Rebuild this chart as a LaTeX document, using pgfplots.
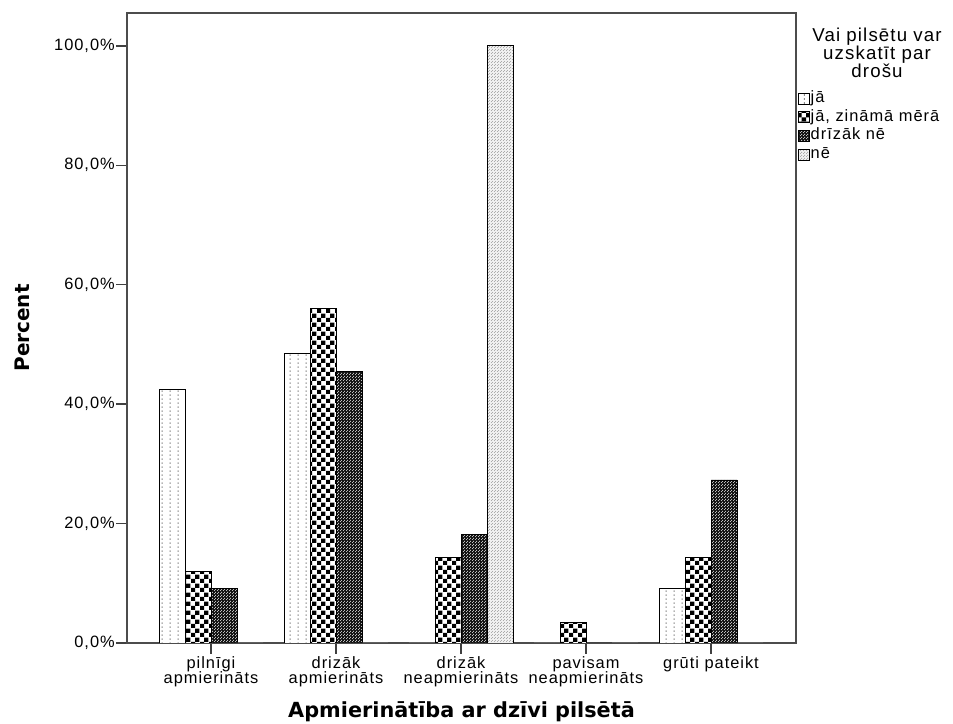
\documentclass[border=0pt]{standalone}
\usepackage{pgfplots}
\pgfplotsset{compat=1.18}
\usetikzlibrary{patterns}
\usepackage{fontspec}
\setmainfont{Liberation Sans}
\newfontfamily\spssfont{Liberation Sans}[LetterSpace=6]
\newfontfamily\lblfont{DejaVu Sans}

\pgfdeclarepatternformonly{vdashes}{\pgfqpoint{0pt}{0pt}}{\pgfqpoint{6.25pt}{3pt}}{\pgfqpoint{6.25pt}{3pt}}%
{\pgfpathrectangle{\pgfqpoint{3pt}{0pt}}{\pgfqpoint{0.8pt}{1.6pt}}\pgfusepath{fill}}
\pgfdeclarepatternformonly{checks}{\pgfqpoint{0pt}{0pt}}{\pgfqpoint{6.5pt}{6.5pt}}{\pgfqpoint{6.5pt}{6.5pt}}%
{\pgfpathrectangle{\pgfqpoint{0pt}{0pt}}{\pgfqpoint{3.25pt}{3.25pt}}\pgfpathrectangle{\pgfqpoint{3.25pt}{3.25pt}}{\pgfqpoint{3.25pt}{3.25pt}}\pgfusepath{fill}}
\pgfdeclarepatternformonly{finedots}{\pgfqpoint{0pt}{0pt}}{\pgfqpoint{2.3pt}{2.3pt}}{\pgfqpoint{2.3pt}{2.3pt}}%
{\pgfpathrectangle{\pgfqpoint{0pt}{0pt}}{\pgfqpoint{0.8pt}{0.8pt}}\pgfpathrectangle{\pgfqpoint{1.15pt}{1.15pt}}{\pgfqpoint{0.8pt}{0.8pt}}\pgfusepath{fill}}

\begin{document}
\begin{tikzpicture}
\useasboundingbox (0,0) rectangle (714.75pt,543pt);
\begin{axis}[
  at={(95.25pt,60.75pt)}, anchor=south west,
  scale only axis, width=501.75pt, height=472.5pt,
  ybar=0pt, bar width=19.5pt,
  xmin=-0.672, xmax=4.68, ymin=0, ymax=105.5,
  xtick={0,1,2,3,4},
  xticklabels={{pilnīgi\\apmierināts},{drizāk\\apmierināts},{drizāk\\neapmierināts},{pavisam\\neapmierināts},{grūti pateikt}},
  xticklabel style={align=center, font=\spssfont\fontsize{12.3}{11.5}\selectfont, inner sep=2pt},
  ytick={0,20,40,60,80,100},
  yticklabels={{0,0\%},{20,0\%},{40,0\%},{60,0\%},{80,0\%},{100,0\%}},
  yticklabel style={font=\spssfont\fontsize{12.3}{12}\selectfont, inner sep=1pt},
  tick align=outside, tick pos=left, major tick length=8pt,
  axis line style={black!70, line width=1.2pt},
  every tick/.style={black!75, line width=1.1pt},
  xlabel={Apmierinātība ar dzīvi pilsētā},
  xlabel style={at={(axis description cs:0.5,-0.1095)}, anchor=center, font=\lblfont\bfseries\fontsize{15.6}{16}\selectfont},
  ylabel={Percent},
  ylabel style={at={(axis description cs:-0.157,0.5)}, anchor=center, font=\lblfont\bfseries\fontsize{15}{16}\selectfont},
  legend cell align=left,
  legend style={at={(rel axis cs:1.002,0.879)}, anchor=north west, draw=none, fill=none,
    inner sep=0pt, row sep=0.3pt,
    font=\spssfont\fontsize{12.3}{12}\selectfont,
    nodes={inner sep=1pt, text height=8.7pt, text depth=3pt}},
  legend image code/.code={\draw[#1, line width=0.6pt] (0pt,-4.1pt) rectangle (8.25pt,4.1pt);},
]
\addplot[draw=black, line width=0.7pt, fill=white, postaction={pattern=vdashes, pattern color=gray!90}]
  coordinates {(0,42.5) (1,48.5) (2,0) (3,0) (4,9.1)};
\addlegendentry{jā}
\addplot[draw=black, line width=0.7pt, fill=white, postaction={pattern=checks, pattern color=black}]
  coordinates {(0,11.9) (1,56.0) (2,14.3) (3,3.5) (4,14.3)};
\addlegendentry{jā, zināmā mērā}
\addplot[draw=black, line width=0.7pt, fill=black!92, postaction={pattern=finedots, pattern color=gray!50}]
  coordinates {(0,9.1) (1,45.5) (2,18.2) (3,0) (4,27.3)};
\addlegendentry{drīzāk nē}
\addplot[draw=black, line width=0.7pt, fill=gray!12, postaction={pattern=finedots, pattern color=gray!65}]
  coordinates {(0,0) (1,0) (2,100) (3,0) (4,0)};
\addlegendentry{nē}
\end{axis}
\node[align=center, font=\spssfont\fontsize{14}{13.5}\selectfont] at (657.75pt,503.25pt) {Vai pilsētu var\\uzskatīt par\\drošu};
\end{tikzpicture}
\end{document}
